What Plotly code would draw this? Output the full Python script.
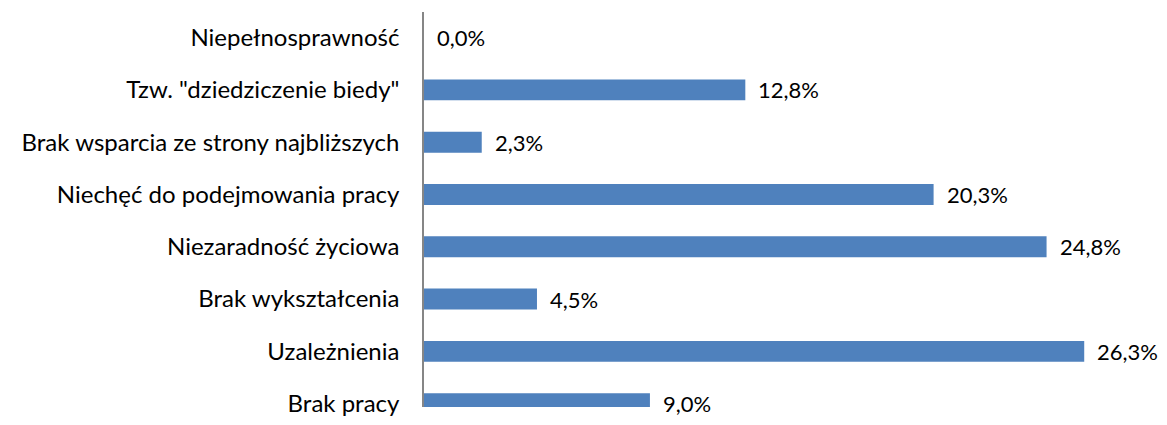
import plotly.graph_objects as go

categories = [
    "Brak pracy",
    "Uzależnienia",
    "Brak wykształcenia",
    "Niezaradność życiowa",
    "Niechęć do podejmowania pracy",
    "Brak wsparcia ze strony najbliższych",
    "Tzw. \"dziedziczenie biedy\"",
    "Niepełnosprawność",
]
values = [9.0, 26.3, 4.5, 24.8, 20.3, 2.3, 12.8, 0.0]
value_labels = [f"{v:.1f}%".replace(".", ",") for v in values]

FONT = "Lato"
FS = 24

fig = go.Figure()
fig.add_trace(go.Bar(
    x=values,
    y=categories,
    orientation="h",
    width=0.4,
    marker=dict(color="#4F81BD", line=dict(width=0)),
    hoverinfo="skip",
))

for c, v, t in zip(categories, values, value_labels):
    fig.add_annotation(
        x=v, y=c, text=t, showarrow=False,
        xanchor="left", yanchor="middle", xshift=11,
        font=dict(family=FONT, size=22, color="#000000"),
    )

fig.update_layout(
    width=1152, height=409,
    margin=dict(l=416, r=8, t=4, b=0),
    paper_bgcolor="white", plot_bgcolor="white",
    showlegend=False,
    font=dict(family=FONT, size=FS, color="#000000"),
    xaxis=dict(range=[0, 29], visible=False, showgrid=False, zeroline=False),
    yaxis=dict(
        type="category",
        categoryorder="array", categoryarray=categories,
        range=[-0.064, 7.49],
        showgrid=False, zeroline=False,
        showline=True, linecolor="#868686", linewidth=1.5,
        ticks="", ticklabelstandoff=18,
        tickfont=dict(family=FONT, size=FS, color="#000000"),
    ),
)

fig.write_html("out.html")
